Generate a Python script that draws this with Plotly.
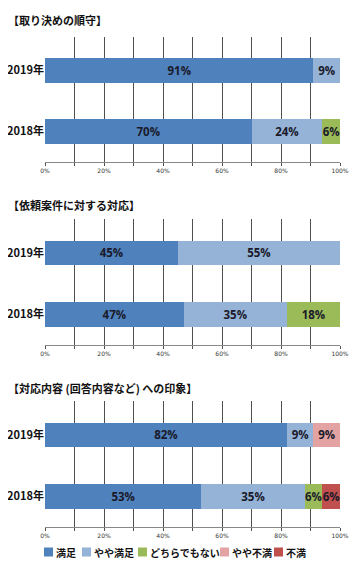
import plotly.graph_objects as go

years = ["2018年", "2019年"]
series = ["満足", "やや満足", "どちらでもない", "やや不満", "不満"]
colors = ["#4F81BD", "#95B3D7", "#9BBB59", "#E3A3A2", "#C0504D"]

titles = ["【取り決めの順守】", "【依頼案件に対する対応】", "【対応内容 (回答内容など) への印象】"]

# values per panel: each series -> [2018, 2019]
panel1 = {"満足": [70, 91], "やや満足": [24, 9], "どちらでもない": [6, 0], "やや不満": [0, 0], "不満": [0, 0]}
panel2 = {"満足": [47, 45], "やや満足": [35, 55], "どちらでもない": [18, 0], "やや不満": [0, 0], "不満": [0, 0]}
panel3 = {"満足": [53, 82], "やや満足": [35, 9], "どちらでもない": [6, 0], "やや不満": [0, 9], "不満": [6, 0]}
panels = [panel1, panel2, panel3]

grid_vals = [0, 10, 20, 30, 40, 50, 60, 70, 80, 90, 100]
grid_text = ["0%", "", "20%", "", "40%", "", "60%", "", "80%", "", "100%"]

# page has an 8px body margin; figure sized so page fills the 364x568 window
OFF = 8
W, H = 364 - 2 * OFF, 568 - 2 * OFF

def px_y(y):  # window pixel y -> paper fraction
    return (H - (y - OFF)) / H

def px_x(x):  # window pixel x -> paper fraction
    return (x - OFF) / W

# window-pixel layout of each panel plot area (top, bottom) and title y
panel_px = [(37, 162), (219, 345), (401, 527)]
title_y = [20, 205, 388]
x_px = (45, 340)

NFONT = "Open Sans, DejaVu Sans, sans-serif"
FONT = "DejaVu Sans, Noto Sans CJK JP, sans-serif"
JFONT = "Noto Sans CJK JP, sans-serif"

fig = go.Figure()
layout = dict(
    width=W, height=H, autosize=False,
    margin=dict(l=0, r=0, t=0, b=0, pad=0),
    paper_bgcolor="white", plot_bgcolor="white",
    template="none",
    barmode="stack", showlegend=False,
    annotations=[], shapes=[],
)

for i, data in enumerate(panels):
    xa = "x" if i == 0 else f"x{i+1}"
    ya = "y" if i == 0 else f"y{i+1}"
    for s, c in zip(series, colors):
        vals = data[s]
        if sum(vals) == 0:
            continue
        txt = [f"{v}%" if v else "" for v in vals]
        fig.add_trace(go.Bar(
            y=years, x=vals, orientation="h", name=s,
            marker=dict(color=c, line=dict(width=0)),
            width=0.4, text=txt, textposition="inside",
            insidetextanchor="middle", textangle=0, constraintext="none",
            textfont=dict(family=NFONT, size=11.5, color="#1a1a2a", weight="bold"),
            hoverinfo="skip", xaxis=xa, yaxis=ya,
        ))
    top, bot = panel_px[i]
    dom_y = [px_y(bot), px_y(top)]
    dom_x = [px_x(x_px[0]), px_x(x_px[1])]
    xkey = "xaxis" if i == 0 else f"xaxis{i+1}"
    ykey = "yaxis" if i == 0 else f"yaxis{i+1}"
    layout[xkey] = dict(
        domain=dom_x, anchor=ya, range=[0, 100],
        tickmode="array", tickvals=grid_vals, ticktext=grid_text,
        tickfont=dict(family=FONT, size=6, color="#333"),
        showgrid=True, gridcolor="#505050", gridwidth=1,
        ticks="outside", ticklen=3, tickcolor="#505050", tickwidth=1,
        showline=True, linecolor="#888888", linewidth=1,
        zeroline=False, fixedrange=True,
    )
    layout[ykey] = dict(
        domain=dom_y, anchor=xa, range=[-0.5, 1.55],
        tickfont=dict(family=JFONT, size=11, color="#111", weight="bold"),
        showgrid=False, zeroline=False, showline=False, ticks="",
        ticklabelstandoff=0, fixedrange=True,
    )
    layout["annotations"].append(dict(
        text=titles[i], xref="paper", yref="paper",
        x=px_x(6), y=px_y(title_y[i]), xanchor="left", yanchor="middle",
        showarrow=False, font=dict(family=JFONT, size=11, color="#111", weight="bold"),
    ))

# manual legend
leg_x = [44, 82, 138, 220, 274]
leg_y = 552
for s, c, lx in zip(series, colors, leg_x):
    layout["shapes"].append(dict(
        type="rect", xref="paper", yref="paper",
        x0=px_x(lx), x1=px_x(lx + 9), y0=px_y(leg_y + 4.5), y1=px_y(leg_y - 4.5),
        fillcolor=c, line=dict(width=0),
    ))
    layout["annotations"].append(dict(
        text=s, xref="paper", yref="paper", x=px_x(lx + 11), y=px_y(leg_y),
        xanchor="left", yanchor="middle", showarrow=False, borderpad=0,
        font=dict(family=JFONT, size=10, color="#111", weight="bold"),
    ))

fig.update_layout(**layout)
fig.write_html("out.html")
